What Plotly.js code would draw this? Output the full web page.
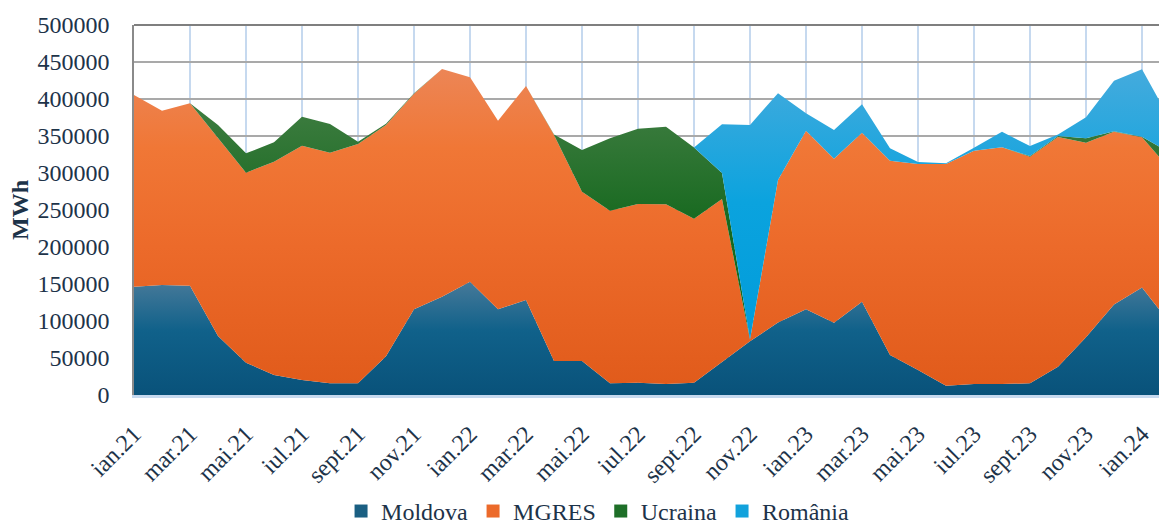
<!DOCTYPE html>
<html>
<head>
<meta charset="utf-8">
<script src="https://cdn.plot.ly/plotly-3.0.1.min.js"></script>
<style>html,body{margin:0;padding:0;background:#fff;}#chart{width:1159px;height:524px;}</style>
</head>
<body>
<div id="chart"></div>
<script>
// Months (category labels)
const months = [
  'ian.21','feb.21','mar.21','apr.21','mai.21','iun.21','iul.21','aug.21','sept.21','oct.21','nov.21','dec.21',
  'ian.22','feb.22','mar.22','apr.22','mai.22','iun.22','iul.22','aug.22','sept.22','oct.22','nov.22','dec.22',
  'ian.23','feb.23','mar.23','apr.23','mai.23','iun.23','iul.23','aug.23','sept.23','oct.23','nov.23','dec.23',
  'ian.24','feb.24'
];
// Tick labels shown on the axis (every second month)
const tickLabels = ['ian.21','mar.21','mai.21','iul.21','sept.21','nov.21','ian.22','mar.22','mai.22','iul.22',
  'sept.22','nov.22','ian.23','mar.23','mai.23','iul.23','sept.23','nov.23','ian.24'];

// Series values, MWh
const moldova = [146400,148600,147700,79700,43700,27000,20300,15800,15800,52200,115800,132900,
  153200,115800,128400,45900,45900,15800,16700,14900,16700,44700,72700,97900,
  115800,97700,126100,54100,33800,12600,14900,14900,15800,38300,78000,122300,
  145200,96900];
const mgres = [259000,235600,246400,267600,256700,288300,316600,311600,323400,312700,291200,307600,
  276100,254900,289200,305500,228800,233300,241400,242800,221600,220000,2000,192600,
  241400,221600,228400,262400,278400,299400,315100,319800,306200,310500,263000,233500,
  203000,208100];
const ucraina = [0,0,0,17600,26200,26100,39200,38800,3100,1600,700,0,
  0,0,0,600,56400,97700,101800,104900,96100,35300,500,0,
  0,0,0,0,0,0,0,0,1000,1200,5900,700,
  800,22400];
const romania = [0,0,0,0,0,0,0,0,0,0,0,0,
  0,0,0,0,0,0,0,0,0,66000,289800,117200,
  23500,38800,38300,16900,2800,1100,4000,20900,13500,2000,28600,68000,
  91300,44100];

const seriesNames = ['Moldova','MGRES','Ucraina','România'];
const seriesData = [moldova, mgres, ucraina, romania];
const baseColors = ['#1a5f82','#ec6a2a','#1e6f28','#12a2dc'];
const gradients = [
  {start:0, stop:158000, colorscale:[[0,'#09527a'],[0.55,'#10618a'],[1,'#4a7b9a']]},
  {start:0, stop:445000, colorscale:[[0,'#e05a1a'],[0.45,'#ec6a2a'],[0.75,'#f07736'],[1,'#ec8657']]},
  {start:230000, stop:380000, colorscale:[[0,'#17691f'],[1,'#3b7b3e']]},
  {start:75000, stop:445000, colorscale:[[0,'#009cdb'],[0.5,'#0ba3de'],[1,'#46abdd']]}
];

const FONT = 'Liberation Serif, Times New Roman, serif';
const TXT = '#1d3349';

const traces = seriesData.map((vals, k) => ({
  type: 'scatter',
  mode: 'none',
  name: seriesNames[k],
  x: months,
  y: vals,
  stackgroup: 'one',
  fillcolor: baseColors[k],
  fillgradient: Object.assign({type:'vertical'}, gradients[k]),
  line: {width: 0},
  showlegend: false,
  hoverinfo: 'x+y+name'
}));

// legend entries shown as small squares
seriesNames.forEach((n, k) => {
  traces.push({
    type: 'scatter', mode: 'markers', name: n,
    x: [null], y: [null],
    marker: {symbol: 'square', size: 13, color: baseColors[k]},
    showlegend: true, hoverinfo: 'skip'
  });
});

const layout = {
  width: 1159, height: 524,
  margin: {l: 134, r: 0, t: 25, b: 129, autoexpand: false},
  paper_bgcolor: '#ffffff', plot_bgcolor: '#ffffff',
  font: {family: FONT, size: 24, color: TXT},
  showlegend: true,
  legend: {
    orientation: 'h', x: 0.202, xanchor: 'left',
    yref: 'container', y: 0.024, yanchor: 'middle', traceorder: 'normal',
    font: {family: FONT, size: 24, color: TXT},
    bgcolor: 'rgba(0,0,0,0)', itemclick: false
  },
  xaxis: {
    type: 'category',
    categoryorder: 'array', categoryarray: months,
    range: [0, 36.607],
    tickvals: tickLabels, ticktext: tickLabels,
    tickangle: -45,
    ticks: 'outside', ticklen: 13, tickcolor: 'rgba(0,0,0,0)',
    tickfont: {family: FONT, size: 24, color: TXT},
    showgrid: true, gridcolor: '#c6d9ef', gridwidth: 1.6,
    showline: true, linecolor: '#c6d9ef', linewidth: 2.5,
    zeroline: false, fixedrange: true, automargin: false
  },
  yaxis: {
    range: [0, 500000], dtick: 50000, tick0: 0,
    tickformat: 'd',
    ticks: 'outside', ticklen: 18, tickcolor: 'rgba(0,0,0,0)',
    tickfont: {family: FONT, size: 24, color: TXT},
    showgrid: true, gridcolor: '#a9a9a9', gridwidth: 1.8,
    showline: true, linecolor: '#8a8a8a', linewidth: 1.8,
    zeroline: false, fixedrange: true, automargin: false,
    title: {text: '<b>MWh</b>', font: {family: FONT, size: 24, color: TXT}, standoff: 2}
  },
  shapes: [{
    type: 'line', xref: 'paper', yref: 'paper', x0: 0, x1: 1, y0: 1, y1: 1,
    line: {color: '#7f7f7f', width: 2}, layer: 'above'
  }]
};

Plotly.newPlot('chart', traces, layout, {displayModeBar: false, staticPlot: true});
</script>
</body>
</html>
